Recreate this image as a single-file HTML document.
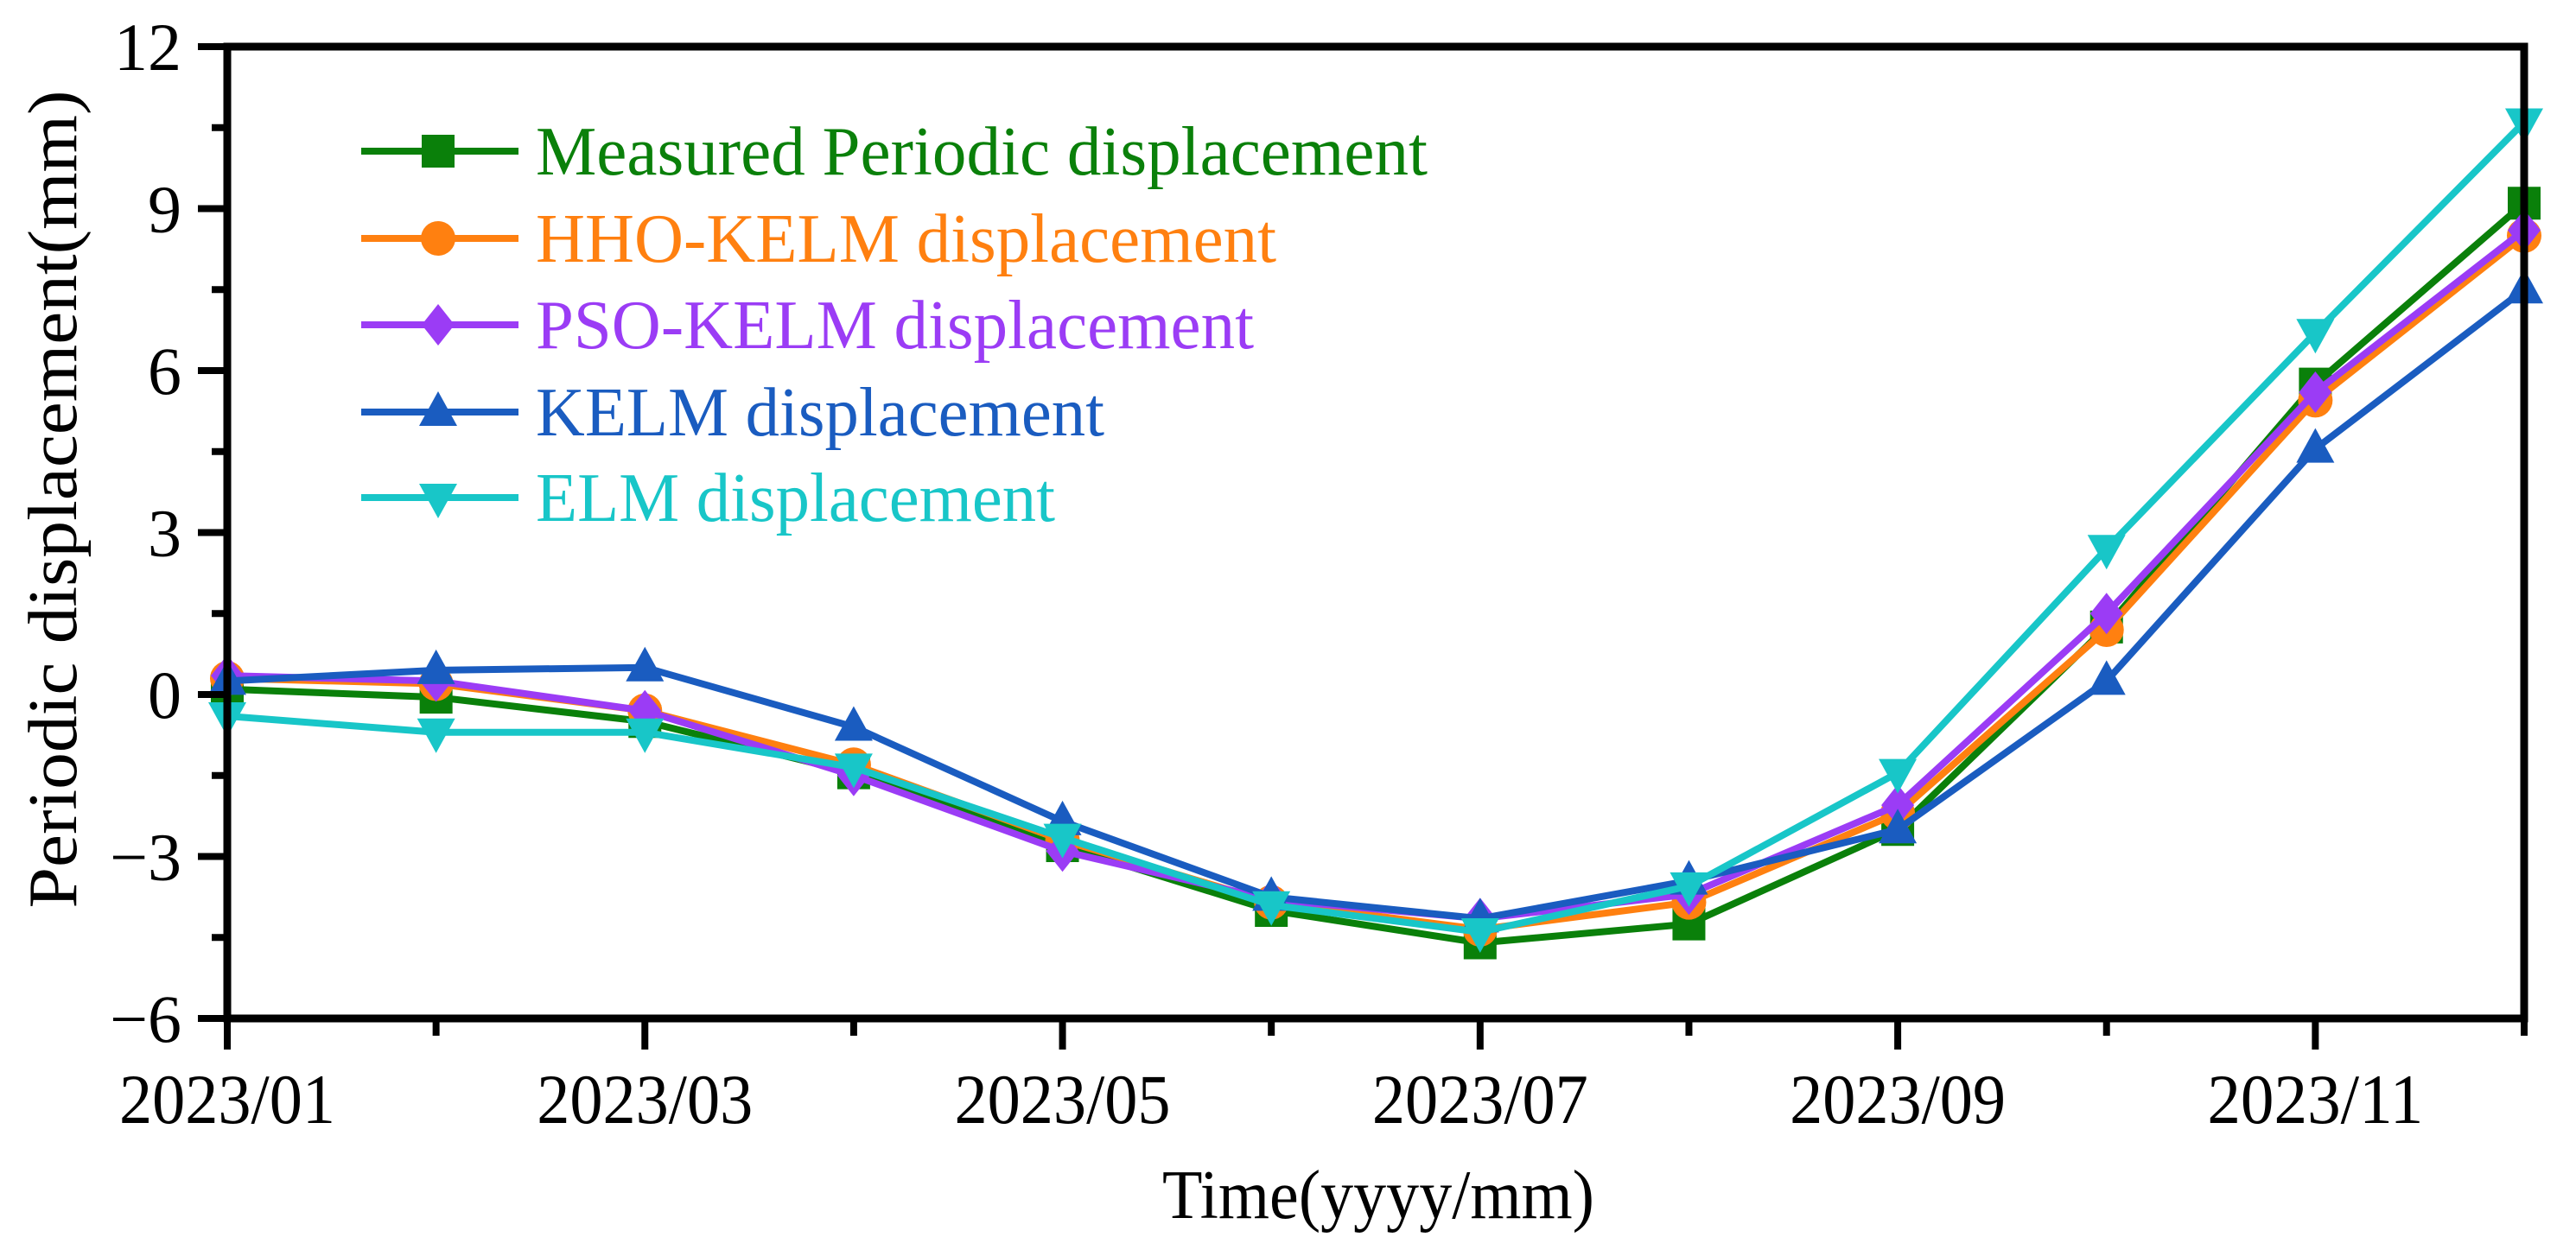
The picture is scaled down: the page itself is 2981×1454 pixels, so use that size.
<!DOCTYPE html>
<html><head><meta charset="utf-8"><style>
html,body{margin:0;padding:0;background:#fff;}
svg{display:block;}
text{font-family:"Liberation Serif",serif;}
</style></head><body>
<svg id="chart" width="2981" height="1454" xmlns="http://www.w3.org/2000/svg">
<g id="grid-layer"></g>
<g id="series-layer"></g>
<g id="axes-layer"></g>
<g id="legend-layer"></g>
</svg>
<script>
const months = ["2023/01","2023/02","2023/03","2023/04","2023/05","2023/06","2023/07","2023/08","2023/09","2023/10","2023/11","2023/12"];
const yTicks = [-6,-3,0,3,6,9,12];
const yTickLabels = ["\u22126","\u22123","0","3","6","9","12"];
const measured = [0.1,-0.05,-0.5,-1.45,-2.8,-4.0,-4.6,-4.25,-2.5,1.25,5.75,9.1];
const hho = [0.3,0.2,-0.3,-1.3,-2.7,-3.85,-4.35,-3.85,-2.2,1.2,5.45,8.5];
const pso = [0.35,0.25,-0.3,-1.5,-2.9,-3.8,-4.15,-3.7,-2.05,1.5,5.6,8.6];
const kelm = [0.25,0.45,0.5,-0.6,-2.35,-3.75,-4.15,-3.45,-2.5,0.25,4.55,7.5];
const elm = [-0.4,-0.7,-0.7,-1.35,-2.65,-3.9,-4.4,-3.55,-1.45,2.7,6.7,10.6];
const seriesNames = ["Measured Periodic displacement","HHO-KELM displacement","PSO-KELM displacement","KELM displacement","ELM displacement"];

const NS="http://www.w3.org/2000/svg";
const L=263,R=2921,T=54,B=1179,yMin=-6,yMax=12;
function xs(i){return L+(R-L)*i/(months.length-1);}
function ys(v){return B-(v-yMin)/(yMax-yMin)*(B-T);}
function mk(tag,attrs,parent){const e=document.createElementNS(NS,tag);for(const k in attrs)e.setAttribute(k,attrs[k]);parent.appendChild(e);return e;}

const series=[
 {name:"measured",data:measured,color:"#0a800a",marker:"square",tw:1032},
 {name:"hho-kelm",data:hho,color:"#ff8010",marker:"circle",tw:857},
 {name:"pso-kelm",data:pso,color:"#9b3cf5",marker:"diamond",tw:831},
 {name:"kelm",data:kelm,color:"#1a5cc0",marker:"triangle",tw:658},
 {name:"elm",data:elm,color:"#18c6c8",marker:"tri-down",tw:601}
];
function drawMarker(type,x,y,color,parent){
  let e;
  if(type==="square"){e=mk("rect",{x:x-19,y:y-19,width:38,height:38,fill:color},parent);}
  else if(type==="circle"){e=mk("circle",{cx:x,cy:y,r:20,fill:color},parent);}
  else if(type==="diamond"){e=mk("polygon",{points:`${x},${y-24} ${x+19},${y} ${x},${y+24} ${x-19},${y}`,fill:color},parent);}
  else if(type==="triangle"){e=mk("polygon",{points:`${x},${y-24} ${x+22},${y+16} ${x-22},${y+16}`,fill:color},parent);}
  else {e=mk("polygon",{points:`${x},${y+24} ${x+22},${y-16} ${x-22},${y-16}`,fill:color},parent);}
  return e;
}
const sl=document.getElementById("series-layer");
series.forEach(s=>{
  const g=mk("g",{},sl);
  
  
  const pl=mk("polyline",{points:s.data.map((v,i)=>xs(i)+","+ys(v)).join(" "),fill:"none",stroke:s.color,"stroke-width":8,"stroke-linejoin":"round"},g);
  
  
  s.data.forEach((v,i)=>{
    const m=drawMarker(s.marker,xs(i),ys(v),s.color,g);
    
    
  });
});

const ax=document.getElementById("axes-layer");
const frame=mk("rect",{x:L,y:T,width:R-L,height:B-T,fill:"none",stroke:"#000","stroke-width":9},ax);


for(let v=yMin;v<=yMax;v+=1.5){
  const major=(v%3===0);
  const t=mk("line",{x1:L-(major?34:18),x2:L,y1:ys(v),y2:ys(v),stroke:"#000","stroke-width":8},ax);
  
  
}
yTicks.forEach((v,i)=>{
  const t=mk("text",{x:210,y:ys(v)+27,"text-anchor":"end","font-size":78,fill:"#000"},ax);
  t.textContent=yTickLabels[i];
  
  
});
months.forEach((m,i)=>{
  const major=(i%2===0);
  const t=mk("line",{x1:xs(i),x2:xs(i),y1:B,y2:B+(major?36:20),stroke:"#000","stroke-width":8},ax);
  
  
  if(major){
    const lb=mk("text",{x:xs(i),y:1300,"text-anchor":"middle","font-size":82,fill:"#000",textLength:250,lengthAdjust:"spacingAndGlyphs"},ax);
    lb.textContent=m;
    
    
  }
});
const xt=mk("text",{x:1595,y:1410,"text-anchor":"middle","font-size":80,fill:"#000",textLength:500,lengthAdjust:"spacingAndGlyphs"},ax);
xt.textContent="Time(yyyy/mm)";


const yt=mk("text",{x:0,y:0,transform:"translate(88,578) rotate(-90)","text-anchor":"middle","font-size":80,fill:"#000",textLength:947,lengthAdjust:"spacingAndGlyphs"},ax);
yt.textContent="Periodic displacement(mm)";



const lg=document.getElementById("legend-layer");
const rows=[175,276,376,477,576];
series.forEach((s,i)=>{
  const g=mk("g",{},lg);
  
  
  mk("line",{x1:418,x2:600,y1:rows[i],y2:rows[i],stroke:s.color,"stroke-width":8},g);
  drawMarker(s.marker,507,rows[i],s.color,g);
  const t=mk("text",{x:620,y:rows[i]+27,"font-size":80,fill:s.color,textLength:s.tw,lengthAdjust:"spacingAndGlyphs"},g);
  t.textContent=seriesNames[i];
});
</script>
</body></html>
